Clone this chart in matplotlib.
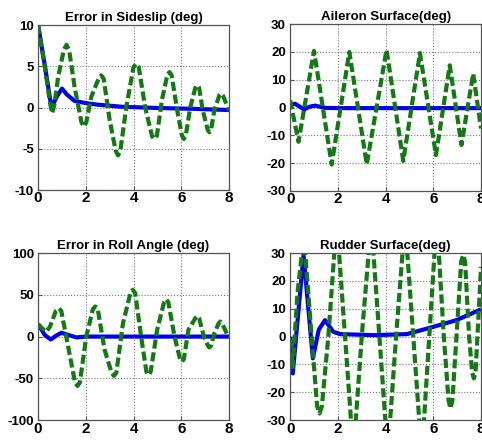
import numpy as np
import matplotlib
matplotlib.use('Agg')
import matplotlib.pyplot as plt

plt.rcParams['font.family'] = ['Liberation Sans', 'DejaVu Sans']
plt.rcParams['font.weight'] = 'bold'
plt.rcParams['axes.unicode_minus'] = False

# sideslip error (deg)
beta_t_g = [0, 0.3, 0.5, 0.59, 0.68, 0.84, 1.08, 1.19, 1.3, 1.53, 1.82, 1.92, 2.02, 2.23,
            2.55, 2.65, 2.75, 3.0, 3.25, 3.35, 3.45, 3.7, 4.0, 4.11, 4.22, 4.49, 4.78, 4.88,
            4.98, 5.19, 5.42, 5.51, 5.6, 5.83, 6.03, 6.11, 6.19, 6.37, 6.59, 6.67, 6.75, 6.9,
            7.11, 7.18, 7.25, 7.39, 7.6, 7.67, 7.74, 8.0]
beta_g = [10, 4.6, 0.6, -0.7, 0.3, 3.7, 7.0, 7.6, 7.0, 2.5, -1.8, -2.3, -1.8, 1.3,
          3.6, 3.9, 3.5, -1.5, -5.2, -5.8, -5.2, 0.1, 4.9, 5.3, 4.9, 0, -3.5, -3.8,
          -3.4, 0.9, 4.0, 4.3, 3.9, -0.3, -3.4, -3.8, -3.4, -0.1, 2.4, 2.7, 2.4, -0.3,
          -2.7, -3.0, -2.7, -0.3, 1.5, 1.7, 1.5, -0.3]
beta_t_b = [0, 0.3, 0.56, 0.8, 1.0, 1.2, 1.53, 2.09, 2.5, 3.5, 5.0, 6.5, 8.0]
beta_b = [10, 4.8, 0.0, 1.4, 2.3, 1.6, 0.8, 0.5, 0.35, 0.1, -0.05, -0.15, -0.3]

# aileron surface (deg)
ail_t_g = [0, 0.35, 1.0, 1.74, 2.48, 3.21, 4.04, 4.74, 5.44, 6.11, 6.69, 7.18, 7.67, 8.0]
ail_g = [2.6, -12.3, 20.4, -20.5, 20, -20.4, 20.8, -19.2, 19.6, -17.1, 15.2, -13.5, 12.2, -7.5]
ail_t_b = [0, 0.2, 0.59, 0.8, 1.05, 1.46, 2.0, 8.0]
ail_b = [0.8, 1.4, -0.7, 0.3, 0.7, -0.1, -0.2, -0.2]

# roll angle error (deg)
phi_t_g = [0, 0.2, 0.35, 0.5, 0.75, 0.86, 0.97, 1.26, 1.55, 1.65, 1.75, 2.02, 2.3, 2.4,
           2.5, 2.79, 3.08, 3.18, 3.28, 3.56, 3.87, 3.97, 4.07, 4.32, 4.54, 4.63, 4.72,
           4.99, 5.28, 5.37, 5.46, 5.72, 5.95, 6.03, 6.11, 6.3, 6.59, 6.67, 6.75, 6.95,
           7.12, 7.18, 7.25, 7.39, 7.57, 7.64, 7.71, 8.0]
phi_g = [15, 9, 5.8, 12, 31, 33.8, 31, -12, -55, -59, -55, 0, 33, 36,
         33, -16, -43, -47, -43, 16, 52, 56, 52, 0, -42, -46, -42,
         8, 41, 44.6, 41, 0, -27, -30, -27, 8, 22, 24.6, 22, 0,
         -11, -13, -11, 4, 16, 18, 16, -2]
phi_t_b = [0, 0.28, 0.53, 0.75, 0.98, 1.26, 1.6, 2.0, 8.0]
phi_b = [15, 2, -3.5, 1, 4.6, 2, -1, 0, 0]

# rudder surface (deg)
rud_t_g = [0, 0.11, 0.3, 0.48, 0.56, 0.64, 0.9, 1.13, 1.23, 1.33, 1.6, 1.85, 1.95, 2.05,
           2.3, 2.55, 2.65, 2.75, 3.0, 3.29, 3.39, 3.49, 3.74, 3.99, 4.09, 4.19, 4.44,
           4.71, 4.81, 4.91, 5.16, 5.41, 5.51, 5.61, 5.83, 6.05, 6.14, 6.23, 6.44, 6.64,
           6.72, 6.8, 6.97, 7.17, 7.25, 7.33, 7.5, 7.63, 7.7, 7.77, 8.0]
rud_g = [-1, -11, 15, 29, 31, 29, 0, -25, -27.6, -25, 0, 30, 33, 30,
         0, -30, -33, -30, 0, 30, 33, 30, 0, -30, -33, -30, 0,
         30, 33, 30, 0, -30, -33, -30, 0, 30, 33, 30, 0, -23,
         -25.8, -23, 0, 27, 29.3, 27, 0, -13, -15, -13, 25]
rud_t_b = [0, 0.11, 0.56, 0.95, 1.2, 1.46, 1.81, 2.09, 3.5, 4.9, 6.0, 6.97, 8.0]
rud_b = [0, -13.2, 29.3, -7.8, 2.5, 5.9, 1.7, 0.9, 0.5, 0.9, 3.5, 5.9, 9.8]

panels = [
    ('Error in Sideslip (deg)', beta_t_b, beta_b, beta_t_g, beta_g, (-10, 10), [-10, -5, 0, 5, 10]),
    ('Aileron Surface(deg)', ail_t_b, ail_b, ail_t_g, ail_g, (-30, 30), [-30, -20, -10, 0, 10, 20, 30]),
    ('Error in Roll Angle (deg)', phi_t_b, phi_b, phi_t_g, phi_g, (-100, 100), [-100, -50, 0, 50, 100]),
    ('Rudder Surface(deg)', rud_t_b, rud_b, rud_t_g, rud_g, (-30, 30), [-30, -20, -10, 0, 10, 20, 30]),
]

# axes boxes in figure fractions
boxes = [
    [0.079, 0.568, 0.396, 0.375],
    [0.602, 0.566, 0.396, 0.379],
    [0.079, 0.045, 0.396, 0.380],
    [0.602, 0.045, 0.396, 0.380],
]

fig = plt.figure(figsize=(4.82, 4.40), dpi=100)
for (title, tb, yb, tg, yg, ylim, yt), box in zip(panels, boxes):
    ax = fig.add_axes(box)
    ax.plot(tb, yb, color='#0000ee', lw=3.0, solid_capstyle='butt')
    ax.plot(tg, yg, color='#137a13', lw=3.0, dashes=(2.2, 0.9))
    ax.set_xlim(0, 8)
    ax.set_ylim(*ylim)
    ax.set_xticks([0, 2, 4, 6, 8])
    ax.set_yticks(yt)
    ax.grid(True, linestyle=':', color='#777777', lw=0.8)
    ax.tick_params(direction='in', length=3, color='#555555')
    ax.tick_params(axis='x', labelsize=11, pad=1)
    ax.tick_params(axis='y', labelsize=9.5, pad=3)
    for s in ax.spines.values():
        s.set_color('#555555')
        s.set_linewidth(0.9)
    ax.set_title(title, fontsize=9.5, fontweight='bold', pad=3)

fig.savefig('out.png', dpi=100)
